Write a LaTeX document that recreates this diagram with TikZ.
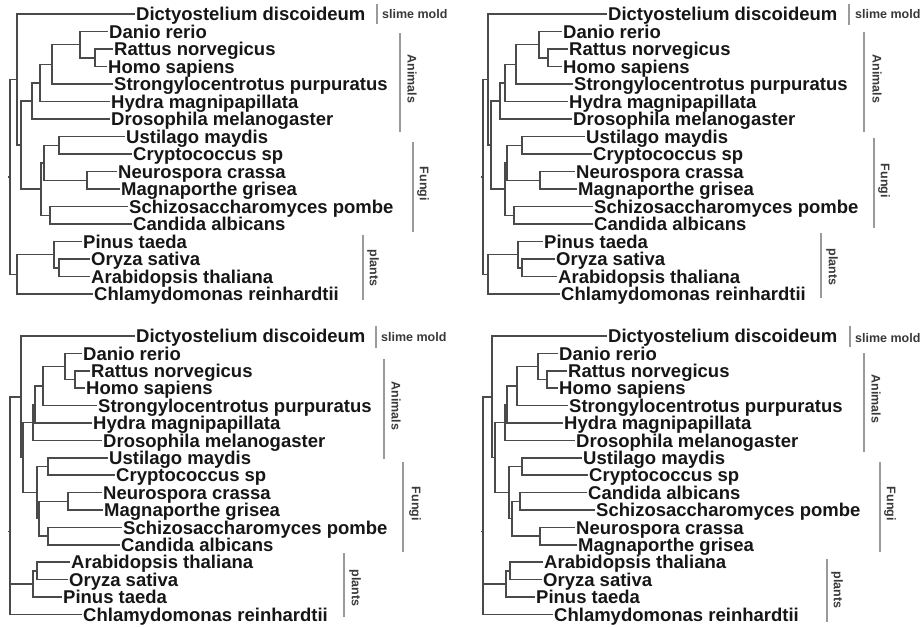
\documentclass[tikz,border=0pt]{standalone}
\usepackage{fontspec}
\setmainfont{Liberation Sans}
\definecolor{brc}{HTML}{4A4A4A}
\definecolor{txc}{HTML}{161616}
\definecolor{barc}{HTML}{9A9A9A}
\newcommand\lf[4]{\node[leaf] (#1) at (#2,{#3}) {#4};}
\tikzset{
  leaf/.style={font=\fontsize{18.5}{18.5}\selectfont\bfseries, text=txc, anchor=west,
    inner xsep=1pt, inner ysep=0pt, text height=13.2pt, text depth=0pt},
  br/.style={draw=brc, line width=1.5pt, line join=miter},
  grpbar/.style={draw=barc, line width=1.3pt},
  grp/.style={font=\fontsize{12.5}{12.5}\selectfont\bfseries, text=txc!85, inner sep=0pt},
  vgrp/.style={grp, rotate=-90, anchor=center},
  hgrp/.style={grp, anchor=west}
}
\begin{document}
\begin{tikzpicture}[x=1pt,y=-1pt,
  declare function={ya(\k)=14+17.5*\k; yb(\k)=336+17.4*\k;}]
\useasboundingbox (0,0) rectangle (922,627);

% ================= Tree 1 (top left) =================
\begin{scope}
\lf{a-dic}{135}{ya(0)}{Dictyostelium discoideum}
\lf{a-dan}{108}{ya(1)}{Danio rerio}
\lf{a-rat}{113}{ya(2)}{Rattus norvegicus}
\lf{a-hom}{107}{ya(3)}{Homo sapiens}
\lf{a-str}{113}{ya(4)}{Strongylocentrotus purpuratus}
\lf{a-hyd}{110}{ya(5)}{Hydra magnipapillata}
\lf{a-dro}{110}{ya(6)}{Drosophila melanogaster}
\lf{a-ust}{125}{ya(7)}{Ustilago maydis}
\lf{a-cry}{132}{ya(8)}{Cryptococcus sp}
\lf{a-neu}{117}{ya(9)}{Neurospora crassa}
\lf{a-mag}{120}{ya(10)}{Magnaporthe grisea}
\lf{a-sch}{128}{ya(11)}{Schizosaccharomyces pombe}
\lf{a-can}{132}{ya(12)}{Candida albicans}
\lf{a-pin}{82}{ya(13)}{Pinus taeda}
\lf{a-ory}{90}{ya(14)}{Oryza sativa}
\lf{a-ara}{90}{ya(15)}{Arabidopsis thaliana}
\lf{a-chl}{93}{ya(16)}{Chlamydomonas reinhardtii}
\coordinate (a-rh) at (95,{ya(2.5)});
\coordinate (a-a4) at (80,{ya(1.75)});
\coordinate (a-a3) at (52,{ya(2.875)});
\coordinate (a-a2) at (40,{ya(3.9375)});
\coordinate (a-an) at (32,{ya(4.96875)});
\coordinate (a-uc) at (59,{ya(7.5)});
\coordinate (a-nm) at (87,{ya(9.5)});
\coordinate (a-fa) at (44,{ya(8.5)});
\coordinate (a-sc) at (50,{ya(11.5)});
\coordinate (a-fu) at (41,{ya(10)});
\coordinate (a-af) at (21,{ya(7.484)});
\coordinate (a-di) at (17,{ya(3.742)});
\coordinate (a-oa) at (59,{ya(14.5)});
\coordinate (a-p3) at (54,{ya(13.75)});
\coordinate (a-pl) at (17,{ya(14.875)});
\coordinate (a-ro) at (10,{ya(9.31)});
\draw[br] (a-rh) |- (a-rat.west); \draw[br] (a-rh) |- (a-hom.west);
\draw[br] (a-a4) |- (a-dan.west); \draw[br] (a-a4) |- (a-rh);
\draw[br] (a-a3) |- (a-a4); \draw[br] (a-a3) |- (a-str.west);
\draw[br] (a-a2) |- (a-a3); \draw[br] (a-a2) |- (a-hyd.west);
\draw[br] (a-an) |- (a-a2); \draw[br] (a-an) |- (a-dro.west);
\draw[br] (a-uc) |- (a-ust.west); \draw[br] (a-uc) |- (a-cry.west);
\draw[br] (a-nm) |- (a-neu.west); \draw[br] (a-nm) |- (a-mag.west);
\draw[br] (a-fa) |- (a-uc); \draw[br] (a-fa) |- (a-nm);
\draw[br] (a-sc) |- (a-sch.west); \draw[br] (a-sc) |- (a-can.west);
\draw[br] (a-fu) |- (a-fa); \draw[br] (a-fu) |- (a-sc);
\draw[br] (a-af) |- (a-an); \draw[br] (a-af) |- (a-fu);
\draw[br] (a-di) |- (a-dic.west); \draw[br] (a-di) |- (a-af);
\draw[br] (a-oa) |- (a-ory.west); \draw[br] (a-oa) |- (a-ara.west);
\draw[br] (a-p3) |- (a-pin.west); \draw[br] (a-p3) |- (a-oa);
\draw[br] (a-pl) |- (a-p3); \draw[br] (a-pl) |- (a-chl.west);
\draw[br] (a-ro) |- (a-di); \draw[br] (a-ro) |- (a-pl);
\coordinate (a-rt) at (7.5,{ya(9.31)});
\draw[br] (a-ro) -- (a-rt);
% group bars
\coordinate (a-b1) at (377,4); \coordinate (a-b2) at (377,24);
\draw[grpbar] (a-b1) -- (a-b2);
\node[hgrp] (a-gs) at (382,14) {slime mold};
\coordinate (a-b3) at (400,33); \coordinate (a-b4) at (400,132);
\draw[grpbar] (a-b3) -- (a-b4);
\node[vgrp] (a-ga) at (412,79) {Animals};
\coordinate (a-b5) at (413,142); \coordinate (a-b6) at (413,232);
\draw[grpbar] (a-b5) -- (a-b6);
\node[vgrp] (a-gf) at (423,184) {Fungi};
\coordinate (a-b7) at (363,235); \coordinate (a-b8) at (363,300);
\draw[grpbar] (a-b7) -- (a-b8);
\node[vgrp] (a-gp) at (373,268) {plants};
\end{scope}

% ================= Tree 2 (top right) =================
\begin{scope}[shift={(460,0)}]
\lf{b-dic}{147}{ya(0)}{Dictyostelium discoideum}
\lf{b-dan}{102}{ya(1)}{Danio rerio}
\lf{b-rat}{108}{ya(2)}{Rattus norvegicus}
\lf{b-hom}{102}{ya(3)}{Homo sapiens}
\lf{b-str}{113}{ya(4)}{Strongylocentrotus purpuratus}
\lf{b-hyd}{108}{ya(5)}{Hydra magnipapillata}
\lf{b-dro}{112}{ya(6)}{Drosophila melanogaster}
\lf{b-ust}{125}{ya(7)}{Ustilago maydis}
\lf{b-cry}{132}{ya(8)}{Cryptococcus sp}
\lf{b-neu}{115}{ya(9)}{Neurospora crassa}
\lf{b-mag}{117}{ya(10)}{Magnaporthe grisea}
\lf{b-sch}{133}{ya(11)}{Schizosaccharomyces pombe}
\lf{b-can}{133}{ya(12)}{Candida albicans}
\lf{b-pin}{83}{ya(13)}{Pinus taeda}
\lf{b-ory}{95}{ya(14)}{Oryza sativa}
\lf{b-ara}{97}{ya(15)}{Arabidopsis thaliana}
\lf{b-chl}{100}{ya(16)}{Chlamydomonas reinhardtii}
\coordinate (b-rh) at (88,{ya(2.5)});
\coordinate (b-a4) at (79,{ya(1.75)});
\coordinate (b-a3) at (56,{ya(2.875)});
\coordinate (b-a2) at (45,{ya(3.9375)});
\coordinate (b-an) at (40,{ya(4.96875)});
\coordinate (b-uc) at (62,{ya(7.5)});
\coordinate (b-nm) at (80,{ya(9.5)});
\coordinate (b-fa) at (47,{ya(8.5)});
\coordinate (b-sc) at (54,{ya(11.5)});
\coordinate (b-fu) at (45,{ya(10)});
\coordinate (b-af) at (31,{ya(7.484)});
\coordinate (b-di) at (28,{ya(3.742)});
\coordinate (b-oa) at (62,{ya(14.5)});
\coordinate (b-p3) at (58,{ya(13.75)});
\coordinate (b-pl) at (28,{ya(14.875)});
\coordinate (b-ro) at (23,{ya(9.31)});
\draw[br] (b-rh) |- (b-rat.west); \draw[br] (b-rh) |- (b-hom.west);
\draw[br] (b-a4) |- (b-dan.west); \draw[br] (b-a4) |- (b-rh);
\draw[br] (b-a3) |- (b-a4); \draw[br] (b-a3) |- (b-str.west);
\draw[br] (b-a2) |- (b-a3); \draw[br] (b-a2) |- (b-hyd.west);
\draw[br] (b-an) |- (b-a2); \draw[br] (b-an) |- (b-dro.west);
\draw[br] (b-uc) |- (b-ust.west); \draw[br] (b-uc) |- (b-cry.west);
\draw[br] (b-nm) |- (b-neu.west); \draw[br] (b-nm) |- (b-mag.west);
\draw[br] (b-fa) |- (b-uc); \draw[br] (b-fa) |- (b-nm);
\draw[br] (b-sc) |- (b-sch.west); \draw[br] (b-sc) |- (b-can.west);
\draw[br] (b-fu) |- (b-fa); \draw[br] (b-fu) |- (b-sc);
\draw[br] (b-af) |- (b-an); \draw[br] (b-af) |- (b-fu);
\draw[br] (b-di) |- (b-dic.west); \draw[br] (b-di) |- (b-af);
\draw[br] (b-oa) |- (b-ory.west); \draw[br] (b-oa) |- (b-ara.west);
\draw[br] (b-p3) |- (b-pin.west); \draw[br] (b-p3) |- (b-oa);
\draw[br] (b-pl) |- (b-p3); \draw[br] (b-pl) |- (b-chl.west);
\draw[br] (b-ro) |- (b-di); \draw[br] (b-ro) |- (b-pl);
\coordinate (b-rt) at (20.5,{ya(9.31)});
\draw[br] (b-ro) -- (b-rt);
\end{scope}
\coordinate (b-b1) at (849,4); \coordinate (b-b2) at (849,25);
\draw[grpbar] (b-b1) -- (b-b2);
\node[hgrp] (b-gs) at (855,14) {slime mold};
\coordinate (b-b3) at (864,32); \coordinate (b-b4) at (864,132);
\draw[grpbar] (b-b3) -- (b-b4);
\node[vgrp] (b-ga) at (877,79) {Animals};
\coordinate (b-b5) at (874,138); \coordinate (b-b6) at (874,228);
\draw[grpbar] (b-b5) -- (b-b6);
\node[vgrp] (b-gf) at (884,181) {Fungi};
\coordinate (b-b7) at (821,233); \coordinate (b-b8) at (821,298);
\draw[grpbar] (b-b7) -- (b-b8);
\node[vgrp] (b-gp) at (832,267) {plants};

% ================= Tree 3 (bottom left) =================
\begin{scope}
\lf{c-dic}{135}{yb(0)}{Dictyostelium discoideum}
\lf{c-dan}{82}{yb(1)}{Danio rerio}
\lf{c-rat}{90}{yb(2)}{Rattus norvegicus}
\lf{c-hom}{85}{yb(3)}{Homo sapiens}
\lf{c-str}{97}{yb(4)}{Strongylocentrotus purpuratus}
\lf{c-hyd}{92}{yb(5)}{Hydra magnipapillata}
\lf{c-dro}{102}{yb(6)}{Drosophila melanogaster}
\lf{c-ust}{108}{yb(7)}{Ustilago maydis}
\lf{c-cry}{115}{yb(8)}{Cryptococcus sp}
\lf{c-neu}{102}{yb(9)}{Neurospora crassa}
\lf{c-mag}{103}{yb(10)}{Magnaporthe grisea}
\lf{c-sch}{122}{yb(11)}{Schizosaccharomyces pombe}
\lf{c-can}{120}{yb(12)}{Candida albicans}
\lf{c-ara}{70}{yb(13)}{Arabidopsis thaliana}
\lf{c-ory}{68}{yb(14)}{Oryza sativa}
\lf{c-pin}{62}{yb(15)}{Pinus taeda}
\lf{c-chl}{82}{yb(16)}{Chlamydomonas reinhardtii}
\coordinate (c-rh) at (75,{yb(2.5)});
\coordinate (c-a4) at (65,{yb(1.75)});
\coordinate (c-a3) at (43,{yb(2.875)});
\coordinate (c-a2) at (35,{yb(3.9375)});
\coordinate (c-an) at (33,{yb(4.96875)});
\coordinate (c-uc) at (48,{yb(7.5)});
\coordinate (c-nm) at (68,{yb(9.5)});
\coordinate (c-sc) at (48,{yb(11.5)});
\coordinate (c-fb) at (39,{yb(10.5)});
\coordinate (c-fu) at (37,{yb(9)});
\coordinate (c-af) at (23,{yb(6.984)});
\coordinate (c-di) at (21,{yb(3.492)});
\coordinate (c-ao) at (37,{yb(13.5)});
\coordinate (c-pp) at (33,{yb(14.25)});
\coordinate (c-ro) at (10,{yb(11.247)});
\draw[br] (c-rh) |- (c-rat.west); \draw[br] (c-rh) |- (c-hom.west);
\draw[br] (c-a4) |- (c-dan.west); \draw[br] (c-a4) |- (c-rh);
\draw[br] (c-a3) |- (c-a4); \draw[br] (c-a3) |- (c-str.west);
\draw[br] (c-a2) |- (c-a3); \draw[br] (c-a2) |- (c-hyd.west);
\draw[br] (c-an) |- (c-a2); \draw[br] (c-an) |- (c-dro.west);
\draw[br] (c-uc) |- (c-ust.west); \draw[br] (c-uc) |- (c-cry.west);
\draw[br] (c-nm) |- (c-neu.west); \draw[br] (c-nm) |- (c-mag.west);
\draw[br] (c-sc) |- (c-sch.west); \draw[br] (c-sc) |- (c-can.west);
\draw[br] (c-fb) |- (c-nm); \draw[br] (c-fb) |- (c-sc);
\draw[br] (c-fu) |- (c-uc); \draw[br] (c-fu) |- (c-fb);
\draw[br] (c-af) |- (c-an); \draw[br] (c-af) |- (c-fu);
\draw[br] (c-di) |- (c-dic.west); \draw[br] (c-di) |- (c-af);
\draw[br] (c-ao) |- (c-ara.west); \draw[br] (c-ao) |- (c-ory.west);
\draw[br] (c-pp) |- (c-ao); \draw[br] (c-pp) |- (c-pin.west);
\draw[br] (c-ro) |- (c-di); \draw[br] (c-ro) |- (c-pp); \draw[br] (c-ro) |- (c-chl.west);
\coordinate (c-rt) at (7.5,{yb(11.247)});
\draw[br] (c-ro) -- (c-rt);
\coordinate (c-b1) at (376,326); \coordinate (c-b2) at (376,348);
\draw[grpbar] (c-b1) -- (c-b2);
\node[hgrp] (c-gs) at (381,337) {slime mold};
\coordinate (c-b3) at (384,359); \coordinate (c-b4) at (384,459);
\draw[grpbar] (c-b3) -- (c-b4);
\node[vgrp] (c-ga) at (396,406) {Animals};
\coordinate (c-b5) at (403,462); \coordinate (c-b6) at (403,552);
\draw[grpbar] (c-b5) -- (c-b6);
\node[vgrp] (c-gf) at (415,504) {Fungi};
\coordinate (c-b7) at (344,553); \coordinate (c-b8) at (344,617);
\draw[grpbar] (c-b7) -- (c-b8);
\node[vgrp] (c-gp) at (355,588) {plants};
\end{scope}

% ================= Tree 4 (bottom right) =================
\begin{scope}[shift={(460,0)}]
\lf{d-dic}{147}{yb(0)}{Dictyostelium discoideum}
\lf{d-dan}{98}{yb(1)}{Danio rerio}
\lf{d-rat}{107}{yb(2)}{Rattus norvegicus}
\lf{d-hom}{98}{yb(3)}{Homo sapiens}
\lf{d-str}{108}{yb(4)}{Strongylocentrotus purpuratus}
\lf{d-hyd}{103}{yb(5)}{Hydra magnipapillata}
\lf{d-dro}{115}{yb(6)}{Drosophila melanogaster}
\lf{d-ust}{122}{yb(7)}{Ustilago maydis}
\lf{d-cry}{128}{yb(8)}{Cryptococcus sp}
\lf{d-can}{127}{yb(9)}{Candida albicans}
\lf{d-sch}{135}{yb(10)}{Schizosaccharomyces pombe}
\lf{d-neu}{115}{yb(11)}{Neurospora crassa}
\lf{d-mag}{117}{yb(12)}{Magnaporthe grisea}
\lf{d-ara}{83}{yb(13)}{Arabidopsis thaliana}
\lf{d-ory}{82}{yb(14)}{Oryza sativa}
\lf{d-pin}{75}{yb(15)}{Pinus taeda}
\lf{d-chl}{93}{yb(16)}{Chlamydomonas reinhardtii}
\coordinate (d-rh) at (87,{yb(2.5)});
\coordinate (d-a4) at (78,{yb(1.75)});
\coordinate (d-a3) at (57,{yb(2.875)});
\coordinate (d-a2) at (47,{yb(3.9375)});
\coordinate (d-an) at (45,{yb(4.96875)});
\coordinate (d-uc) at (62,{yb(7.5)});
\coordinate (d-cs) at (60,{yb(9.5)});
\coordinate (d-nm) at (80,{yb(11.5)});
\coordinate (d-fb) at (52,{yb(10.5)});
\coordinate (d-fu) at (49,{yb(9)});
\coordinate (d-af) at (35,{yb(6.984)});
\coordinate (d-di) at (32,{yb(3.492)});
\coordinate (d-ao) at (50,{yb(13.5)});
\coordinate (d-pp) at (46,{yb(14.25)});
\coordinate (d-ro) at (23,{yb(11.247)});
\draw[br] (d-rh) |- (d-rat.west); \draw[br] (d-rh) |- (d-hom.west);
\draw[br] (d-a4) |- (d-dan.west); \draw[br] (d-a4) |- (d-rh);
\draw[br] (d-a3) |- (d-a4); \draw[br] (d-a3) |- (d-str.west);
\draw[br] (d-a2) |- (d-a3); \draw[br] (d-a2) |- (d-hyd.west);
\draw[br] (d-an) |- (d-a2); \draw[br] (d-an) |- (d-dro.west);
\draw[br] (d-uc) |- (d-ust.west); \draw[br] (d-uc) |- (d-cry.west);
\draw[br] (d-cs) |- (d-can.west); \draw[br] (d-cs) |- (d-sch.west);
\draw[br] (d-nm) |- (d-neu.west); \draw[br] (d-nm) |- (d-mag.west);
\draw[br] (d-fb) |- (d-cs); \draw[br] (d-fb) |- (d-nm);
\draw[br] (d-fu) |- (d-uc); \draw[br] (d-fu) |- (d-fb);
\draw[br] (d-af) |- (d-an); \draw[br] (d-af) |- (d-fu);
\draw[br] (d-di) |- (d-dic.west); \draw[br] (d-di) |- (d-af);
\draw[br] (d-ao) |- (d-ara.west); \draw[br] (d-ao) |- (d-ory.west);
\draw[br] (d-pp) |- (d-ao); \draw[br] (d-pp) |- (d-pin.west);
\draw[br] (d-ro) |- (d-di); \draw[br] (d-ro) |- (d-pp); \draw[br] (d-ro) |- (d-chl.west);
\coordinate (d-rt) at (20.5,{yb(11.247)});
\draw[br] (d-ro) -- (d-rt);
\end{scope}
\coordinate (d-b1) at (850,326); \coordinate (d-b2) at (850,347);
\draw[grpbar] (d-b1) -- (d-b2);
\node[hgrp] (d-gs) at (855,338) {slime mold};
\coordinate (d-b3) at (864,353); \coordinate (d-b4) at (864,452);
\draw[grpbar] (d-b3) -- (d-b4);
\node[vgrp] (d-ga) at (876,399) {Animals};
\coordinate (d-b5) at (880,462); \coordinate (d-b6) at (880,552);
\draw[grpbar] (d-b5) -- (d-b6);
\node[vgrp] (d-gf) at (890,504) {Fungi};
\coordinate (d-b7) at (827,559); \coordinate (d-b8) at (827,622);
\draw[grpbar] (d-b7) -- (d-b8);
\node[vgrp] (d-gp) at (837,590) {plants};
\end{tikzpicture}
\end{document}
